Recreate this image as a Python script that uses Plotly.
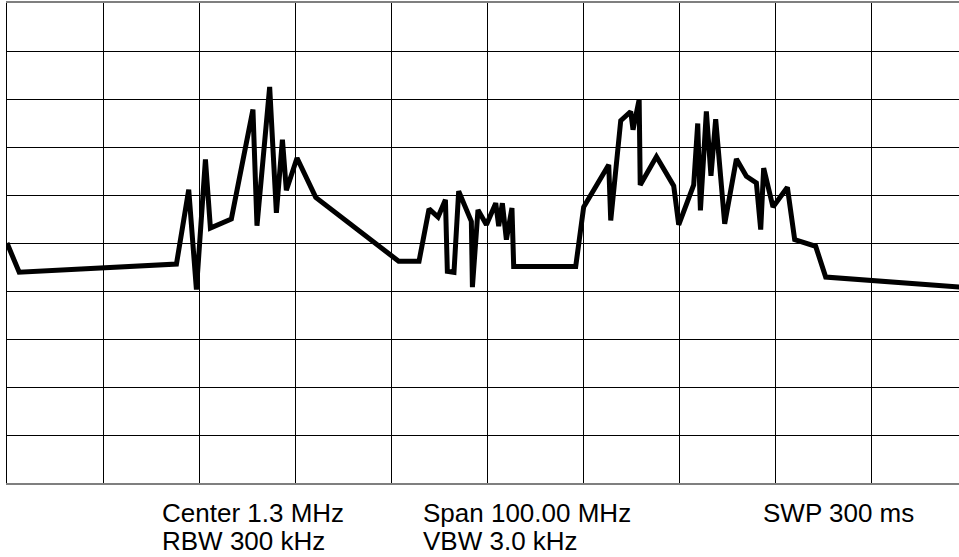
import plotly.graph_objects as go

# Spectrum trace: frequency (MHz) and level (dBm), 10 dB/div, 10 MHz/div
freq_mhz = [
    -48.70, -47.43, -31.05, -29.77, -28.97, -28.03, -27.51, -25.33, -23.08, -22.66,
    -21.34, -20.64, -20.01, -19.60, -18.49, -16.54, -7.90, -5.78, -4.74, -3.80,
    -3.03, -2.83, -2.14, -1.65, -0.33, -0.22, 0.36, 1.24, 2.21, 2.52,
    2.90, 3.32, 3.90, 4.08, 10.54, 11.37, 13.98, 14.19, 15.23, 16.27,
    16.51, 17.15, 17.26, 18.95, 20.75, 21.27, 22.83, 23.25, 23.53, 24.15,
    24.63, 25.12, 26.06, 27.28, 28.32, 29.36, 29.81, 30.12, 31.09, 32.59,
    33.35, 35.54, 36.58, 51.30,
]
level_dbm = [
    -50.0, -56.1, -54.4, -38.9, -59.7, -32.6, -46.9, -45.0, -22.2, -46.4,
    -17.5, -43.7, -28.5, -39.0, -32.3, -40.5, -53.8, -53.8, -42.9, -44.6,
    -41.0, -55.9, -56.1, -39.2, -45.5, -59.2, -43.1, -46.2, -41.7, -46.5,
    -41.7, -49.3, -42.7, -54.9, -54.9, -42.5, -33.7, -45.3, -24.5, -22.6,
    -26.4, -20.1, -37.9, -32.0, -38.1, -46.2, -37.9, -25.1, -43.2, -22.6,
    -36.0, -24.2, -46.0, -32.5, -36.1, -37.5, -47.2, -34.4, -42.5, -38.4,
    -49.3, -50.7, -57.1, -59.3,
]

center_mhz = 1.3
span_mhz = 100.0
ref_level = 0
db_per_div = 10

settings_left = ["Center 1.3 MHz", "RBW 300 kHz"]
settings_mid = ["Span 100.00 MHz", "VBW 3.0 kHz"]
settings_right = ["SWP 300 ms"]

W, H = 959, 557
margin = dict(l=7, r=0, t=3, b=74)
plot_w = W - margin["l"] - margin["r"]
px_per_mhz = 960 / span_mhz
f_start = center_mhz - span_mhz / 2
f_end = f_start + plot_w / px_per_mhz

fig = go.Figure()
fig.add_trace(go.Scatter(
    x=freq_mhz, y=level_dbm, mode="lines",
    line=dict(color="black", width=5),
    hoverinfo="skip", showlegend=False,
))

fig.update_xaxes(
    range=[f_start, f_end], tick0=f_start, dtick=span_mhz / 10,
    showgrid=True, gridcolor="black", gridwidth=1,
    showticklabels=False, ticks="", zeroline=False,
    showline=True, linecolor="#7f7f7f", linewidth=2, mirror=True,
)
fig.update_yaxes(
    range=[ref_level - 10 * db_per_div, ref_level], tick0=ref_level, dtick=db_per_div,
    showgrid=True, gridcolor="black", gridwidth=1,
    showticklabels=False, ticks="", zeroline=False,
    showline=True, linecolor="black", linewidth=1,
)

font = dict(family="Liberation Sans, Arial, sans-serif", size=26, color="black")
line_y = [-0.0635, -0.1198]
columns = [(0.1605, settings_left), (0.4345, settings_mid), (0.7920, settings_right)]
for x0, lines in columns:
    for i, txt in enumerate(lines):
        fig.add_annotation(
            text=txt, xref="paper", yref="paper", x=x0, y=line_y[i],
            xanchor="left", yanchor="middle", showarrow=False, font=font,
        )

fig.update_layout(
    width=W, height=H, margin=margin,
    paper_bgcolor="white", plot_bgcolor="white",
)

fig.write_html("out.html")
